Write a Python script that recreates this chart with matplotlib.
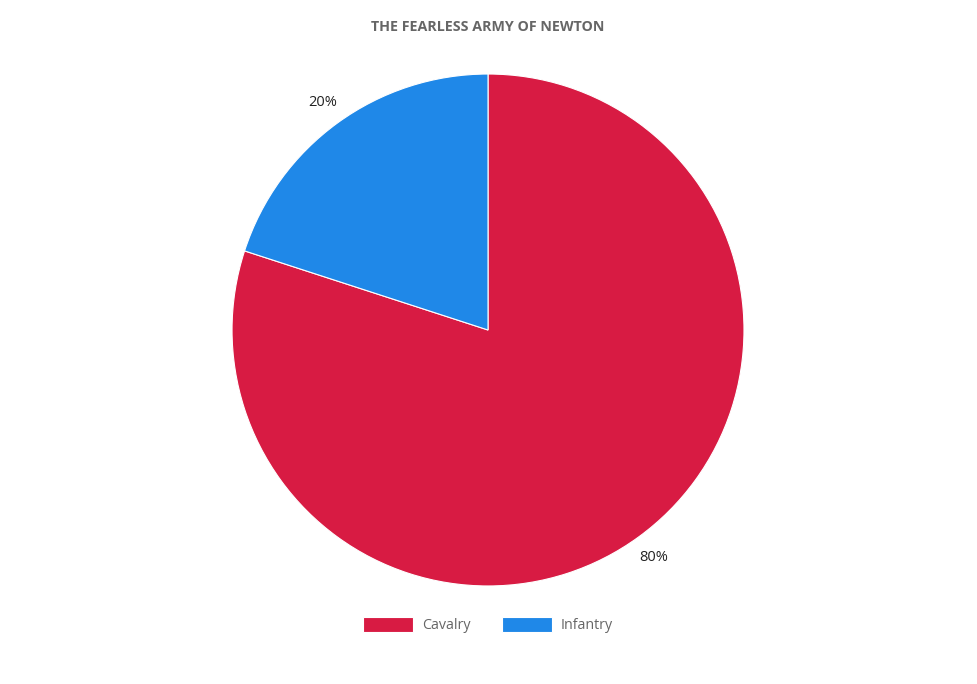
import matplotlib
matplotlib.use('Agg')
from matplotlib import pyplot as plt

plt.rcParams['font.family'] = ['Open Sans', 'DejaVu Sans']

labels = ["Cavalry", "Infantry"]
values = [80, 20]
colors = ["#D81B43", "#1F88E8"]

fig = plt.figure(figsize=(9.77, 6.84), dpi=100)
ax = fig.add_axes([0.2375, 0.1433, 0.524, 0.7485])

wedges, texts, autotexts = ax.pie(values, colors=colors, startangle=90, counterclock=False,
                                  autopct='%1.0f%%', pctdistance=1.1,
                                  wedgeprops=dict(edgecolor='white', linewidth=0.8),
                                  textprops=dict(fontsize=10.5, color='#222222'))
ax.set_aspect('equal')
ax.set_xlim(-1, 1)
ax.set_ylim(-1, 1)

fig.text(0.4995, 0.961, "THE FEARLESS ARMY OF NEWTON", ha='center', va='center',
         fontsize=10.3, fontweight='bold', color='#666666')

fig.legend(wedges, labels, loc='center', bbox_to_anchor=(0.4995, 0.086), ncol=2,
           frameon=False, handlelength=3.5, handleheight=1.3, handletextpad=0.6,
           columnspacing=2.2, fontsize=10.3, labelcolor='#666666')

fig.savefig('out.png', dpi=100)
